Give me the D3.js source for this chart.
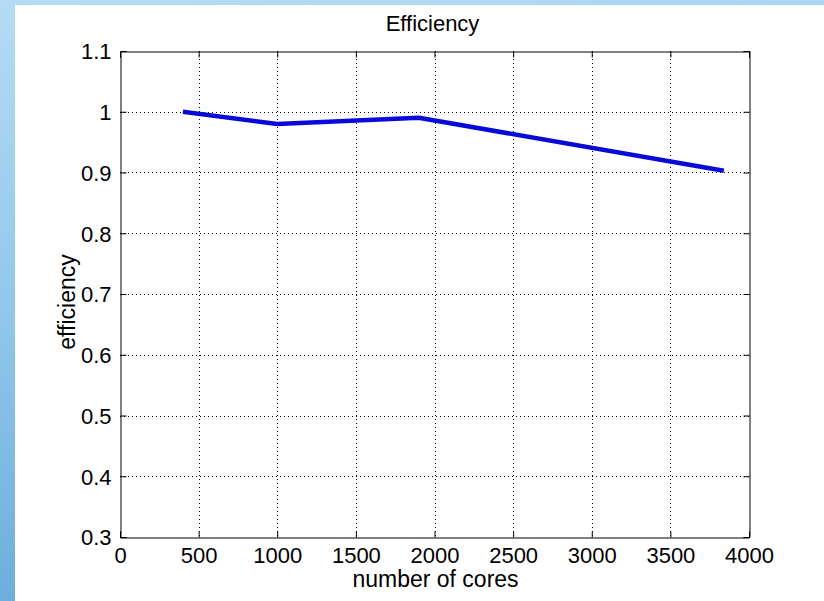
<!DOCTYPE html>
<html>
<head>
<meta charset="utf-8">
<script src="https://cdn.jsdelivr.net/npm/d3@7"></script>
<style>
  html, body { margin: 0; padding: 0; background: #fff; }
  svg { display: block; }
  text { font-family: "Liberation Sans", Arial, Helvetica, sans-serif; fill: #000; }
</style>
</head>
<body>
<script>
// Parallel efficiency versus core count
const cores = [400, 1000, 1900, 3840];
const efficiency = [1.0, 0.98, 0.99, 0.903];
const xTicks = [0, 500, 1000, 1500, 2000, 2500, 3000, 3500, 4000];
const yTicks = [0.3, 0.4, 0.5, 0.6, 0.7, 0.8, 0.9, 1.0, 1.1];
const yTickLabels = ["0.3", "0.4", "0.5", "0.6", "0.7", "0.8", "0.9", "1", "1.1"];
const titleText = "Efficiency";
const xLabel = "number of cores";
const yLabel = "efficiency";

const W = 824, H = 601;
const plot = { left: 120, right: 749, top: 51, bottom: 537 };

const svg = d3.select("body").append("svg").attr("width", W).attr("height", H);

// Slide backdrop: blue strips along the left and top edges
const defs = svg.append("defs");
const grad = defs.append("linearGradient").attr("id", "bgBlue")
  .attr("x1", 0).attr("y1", 0).attr("x2", 0).attr("y2", 1);
grad.append("stop").attr("offset", "0%").attr("stop-color", "#b4dcf4");
grad.append("stop").attr("offset", "50%").attr("stop-color", "#92c8ec");
grad.append("stop").attr("offset", "100%").attr("stop-color", "#6eaedc");
svg.append("rect").attr("x", 0).attr("y", 0).attr("width", W).attr("height", H).attr("fill", "url(#bgBlue)");
const hgrad = defs.append("linearGradient").attr("id", "topBlue")
  .attr("x1", 0).attr("y1", 0).attr("x2", 1).attr("y2", 0);
hgrad.append("stop").attr("offset", "0%").attr("stop-color", "#b4dcf4");
hgrad.append("stop").attr("offset", "100%").attr("stop-color", "#aad6f2");
svg.append("rect").attr("x", 0).attr("y", 0).attr("width", W).attr("height", 5).attr("fill", "url(#topBlue)");
svg.append("rect").attr("x", 15).attr("y", 5).attr("width", W - 15).attr("height", H - 5).attr("fill", "#fff");

const x = d3.scaleLinear().domain([0, 4000]).range([plot.left, plot.right]);
const y = d3.scaleLinear().domain([0.3, 1.1]).range([plot.bottom, plot.top]);

// Dotted grid
const grid = svg.append("g").attr("stroke", "#000").attr("stroke-width", 1).attr("stroke-dasharray", "1,3");
grid.selectAll("line.gx").data(xTicks.slice(1, -1)).join("line")
  .attr("x1", d => Math.round(x(d)) + 0.5).attr("x2", d => Math.round(x(d)) + 0.5)
  .attr("y1", plot.top).attr("y2", plot.bottom);
grid.selectAll("line.gy").data(yTicks.slice(1, -1)).join("line")
  .attr("y1", d => Math.round(y(d)) + 0.5).attr("y2", d => Math.round(y(d)) + 0.5)
  .attr("x1", plot.left).attr("x2", plot.right);

// Axes with inward ticks on all four sides
const tickLen = 6;
const axB = svg.append("g").attr("transform", `translate(0,${plot.bottom + 0.5})`)
  .call(d3.axisBottom(x).tickValues(xTicks).tickSize(-tickLen).tickPadding(10).tickFormat(d3.format("d")));
const axT = svg.append("g").attr("transform", `translate(0,${plot.top + 0.5})`)
  .call(d3.axisTop(x).tickValues(xTicks).tickSize(-tickLen).tickFormat(""));
const axL = svg.append("g").attr("transform", `translate(${plot.left + 0.5},0)`)
  .call(d3.axisLeft(y).tickValues(yTicks).tickSize(-tickLen).tickPadding(9)
    .tickFormat((d, i) => yTickLabels[i]));
const axR = svg.append("g").attr("transform", `translate(${plot.right + 0.5},0)`)
  .call(d3.axisRight(y).tickValues(yTicks).tickSize(-tickLen).tickFormat(""));

[axB, axT, axL, axR].forEach(a => {
  a.select(".domain").attr("stroke", "#000").attr("stroke-width", 1);
  a.selectAll(".tick line").attr("stroke", "#000");
  a.selectAll("text").attr("font-size", 22).attr("font-family", "'Liberation Sans', Arial, sans-serif").attr("fill", "#000");
});
axB.selectAll(".tick text").attr("dy", "0.71em");
axL.selectAll(".tick text").attr("dy", "0.36em");

// Data line
const line = d3.line().x((d, i) => x(cores[i])).y(d => y(d));
svg.append("path").datum(efficiency)
  .attr("d", line)
  .attr("fill", "none")
  .attr("stroke", "#0a0ad8")
  .attr("stroke-width", 4.5)
  .attr("stroke-linejoin", "round");

// Title and axis labels
svg.append("text").attr("x", (plot.left + plot.right) / 2 - 2).attr("y", 31)
  .attr("text-anchor", "middle").attr("font-size", 22).text(titleText);
svg.append("text").attr("x", (plot.left + plot.right) / 2 + 1).attr("y", 587)
  .attr("text-anchor", "middle").attr("font-size", 23).text(xLabel);
svg.append("text")
  .attr("transform", `translate(75,${(plot.top + plot.bottom) / 2 + 8}) rotate(-90)`)
  .attr("text-anchor", "middle").attr("font-size", 23).text(yLabel);
</script>
</body>
</html>
